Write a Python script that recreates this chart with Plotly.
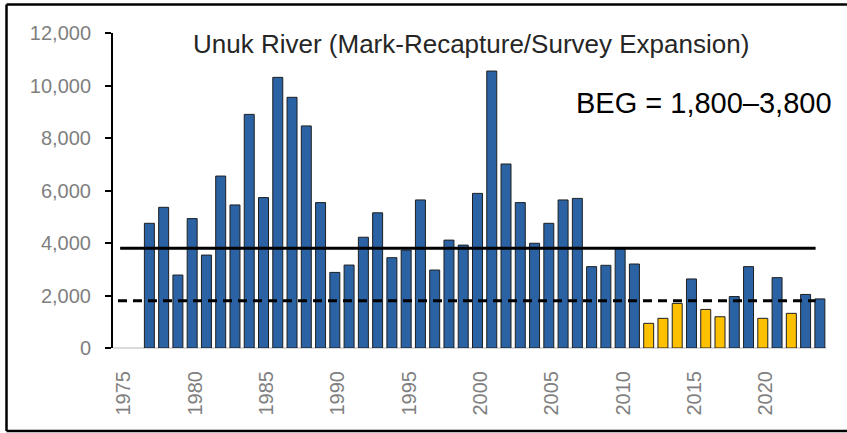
import plotly.graph_objects as go

years = list(range(1977, 2025))
escapement = [4750, 5360, 2780, 4930, 3540, 6550, 5450, 8900, 5730, 10310,
              9550, 8460, 5540, 2880, 3160, 4220, 5150, 3440, 3730, 5640,
              2970, 4110, 3920, 5890, 10550, 7010, 5540, 3990, 4750, 5640,
              5700, 3100, 3150, 3800, 3200, 940, 1130, 1700, 2630, 1470,
              1190, 1960, 3100, 1130, 2680, 1320, 2040, 1870]
survey_years = [2012, 2013, 2014, 2016, 2017, 2020, 2022]
goal_low = 1800
goal_high = 3800
x_ticks = list(range(1975, 2021, 5))
y_ticks = list(range(0, 12001, 2000))
title_text = "Unuk River (Mark-Recapture/Survey Expansion)"
beg_text = "BEG = 1,800\u20133,800"

BLUE = "#2a62a3"
YELLOW = "#ffc000"
colors = [YELLOW if y in survey_years else BLUE for y in years]

W, H = 847, 433
L, R, T, B = 113, 20, 33, 85
pw, ph = W - L - R, H - T - B

def px_x(p):
    return (p - L) / pw

def px_y(p):
    return (H - B - p) / ph

fig = go.Figure()
fig.add_trace(go.Bar(
    x=years, y=escapement, width=0.7,
    marker=dict(color=colors, line=dict(color="#1f1f1f", width=1)),
    showlegend=False, hoverinfo="x+y"))

fig.add_trace(go.Scatter(x=[years[0] - 2.05, years[-1] - 0.3], y=[goal_high, goal_high], mode="lines",
                         line=dict(color="black", width=3), showlegend=False))
fig.add_trace(go.Scatter(x=[years[0] - 2.2, years[-1] - 0.3], y=[goal_low, goal_low], mode="lines",
                         line=dict(color="black", width=3, dash="9px,6px"), showlegend=False))

frame = dict(color="black", width=2.5)
fig.update_layout(
    width=W, height=H,
    margin=dict(l=L, r=R, t=T, b=B),
    paper_bgcolor="white", plot_bgcolor="white",
    xaxis=dict(range=[1974.45, 2024.5], tickmode="array", tickvals=x_ticks,
               ticktext=[str(v) for v in x_ticks], tickangle=-90,
               showgrid=False, zeroline=False, showline=False,
               tickfont=dict(family="Liberation Sans", size=20, color="#7f7f7f"),
               ticks="", ticklabelstandoff=18, ticklabelshift=3),
    yaxis=dict(range=[0, 12000], tickmode="array", tickvals=y_ticks,
               ticktext=[f"{v:,}" for v in y_ticks],
               showgrid=False, zeroline=False, showline=True, linecolor="black",
               linewidth=2, ticks="outside", ticklen=6, tickwidth=2, tickcolor="black",
               ticklabelstandoff=10,
               tickfont=dict(family="Liberation Sans", size=20, color="#7f7f7f")),
    shapes=[
        dict(type="line", xref="paper", yref="paper", x0=0, x1=px_x(826.5),
             y0=0, y1=0, line=dict(color="#d9d9d9", width=2), layer="below"),
        dict(type="line", xref="paper", yref="paper", x0=px_x(6.5), x1=px_x(847),
             y0=px_y(4.5), y1=px_y(4.5), line=frame),
        dict(type="line", xref="paper", yref="paper", x0=px_x(6.5), x1=px_x(847),
             y0=px_y(431), y1=px_y(431), line=frame),
        dict(type="line", xref="paper", yref="paper", x0=px_x(6.5), x1=px_x(6.5),
             y0=px_y(4.5), y1=px_y(431), line=frame),
    ],
    annotations=[
        dict(text=title_text, xref="paper", yref="paper", x=px_x(471), y=px_y(44),
             xanchor="center", yanchor="middle", showarrow=False,
             font=dict(family="Liberation Sans", size=26, color="#262626")),
        dict(text=beg_text, xref="paper", yref="paper", x=px_x(834), y=px_y(103),
             xanchor="right", yanchor="middle", showarrow=False,
             font=dict(family="Liberation Sans", size=29, color="black")),
    ],
)

fig.write_html("out.html", config={"displayModeBar": False},
               post_script="document.body.style.margin='0';document.body.style.overflow='hidden';")
